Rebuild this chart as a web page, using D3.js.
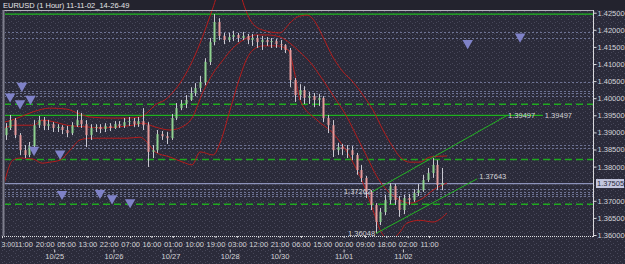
<!DOCTYPE html>
<html><head><meta charset="utf-8">
<script src="https://cdn.jsdelivr.net/npm/d3@7/dist/d3.min.js"></script>
<style>html,body{margin:0;padding:0;background:#2b2b3a;overflow:hidden}</style>
</head><body><svg id="c" width="625" height="264"></svg>
<script>
// ---- data (EURUSD, 2-hour aggregated candles) ----
const opens=[1.3892,1.3913,1.3936,1.3892,1.3848,1.3834,1.3860,1.3921,1.3936,1.3919,1.3924,1.3913,1.3916,1.3907,1.3898,1.3921,1.3936,1.3924,1.3892,1.3913,1.3916,1.3910,1.3919,1.3913,1.3924,1.3919,1.3930,1.3933,1.3924,1.3933,1.3921,1.3843,1.3848,1.3895,1.3889,1.3883,1.3942,1.3971,1.3983,1.3995,1.4015,1.4030,1.4047,1.4106,1.4164,1.4223,1.4182,1.4170,1.4179,1.4185,1.4176,1.4182,1.4170,1.4176,1.4164,1.4170,1.4164,1.4167,1.4158,1.4155,1.4141,1.4053,1.4009,1.4024,1.4001,1.4006,1.3995,1.4001,1.3942,1.3921,1.3848,1.3857,1.3851,1.3848,1.3834,1.3790,1.3767,1.3726,1.3688,1.3638,1.3667,1.3702,1.3743,1.3702,1.3673,1.3708,1.3702,1.3723,1.3731,1.3761,1.3781,1.3805,1.3746];
const highs=[1.3927,1.3951,1.3942,1.3898,1.3863,1.3872,1.3936,1.3948,1.3945,1.3936,1.3930,1.3924,1.3921,1.3919,1.3930,1.3965,1.3957,1.3936,1.3924,1.3924,1.3924,1.3927,1.3927,1.3933,1.3933,1.3942,1.3945,1.3942,1.3945,1.3971,1.3930,1.3863,1.3907,1.3904,1.3901,1.3954,1.3986,1.3995,1.4009,1.4032,1.4044,1.4065,1.4117,1.4176,1.4246,1.4234,1.4191,1.4191,1.4197,1.4191,1.4194,1.4188,1.4188,1.4185,1.4182,1.4179,1.4176,1.4173,1.4170,1.4158,1.4147,1.4059,1.4041,1.4035,1.4018,1.4015,1.4012,1.4006,1.3951,1.3936,1.3869,1.3866,1.3863,1.3860,1.3840,1.3805,1.3773,1.3731,1.3693,1.3679,1.3717,1.3752,1.3749,1.3714,1.3717,1.3720,1.3734,1.3749,1.3776,1.3796,1.3825,1.3819,1.3796];
const lows=[1.3878,1.3907,1.3883,1.3834,1.3825,1.3828,1.3848,1.3913,1.3907,1.3907,1.3901,1.3901,1.3895,1.3886,1.3892,1.3916,1.3913,1.3857,1.3878,1.3901,1.3898,1.3901,1.3904,1.3910,1.3913,1.3913,1.3919,1.3916,1.3916,1.3907,1.3799,1.3825,1.3840,1.3878,1.3866,1.3878,1.3936,1.3965,1.3971,1.3992,1.4006,1.4018,1.4038,1.4097,1.4155,1.4170,1.4158,1.4164,1.4167,1.4164,1.4170,1.4158,1.4153,1.4147,1.4141,1.4153,1.4147,1.4147,1.4141,1.4132,1.4032,1.3989,1.3995,1.3983,1.3983,1.3974,1.3977,1.3930,1.3898,1.3828,1.3834,1.3834,1.3825,1.3819,1.3776,1.3755,1.3708,1.3673,1.3605,1.3629,1.3658,1.3690,1.3688,1.3653,1.3661,1.3688,1.3697,1.3714,1.3726,1.3755,1.3767,1.3731,1.3731];
const closes=[1.3913,1.3936,1.3892,1.3848,1.3834,1.3860,1.3921,1.3936,1.3919,1.3924,1.3913,1.3916,1.3907,1.3898,1.3921,1.3936,1.3924,1.3892,1.3913,1.3916,1.3910,1.3919,1.3913,1.3924,1.3919,1.3930,1.3933,1.3924,1.3933,1.3921,1.3843,1.3848,1.3895,1.3889,1.3883,1.3942,1.3971,1.3983,1.3995,1.4015,1.4030,1.4047,1.4106,1.4164,1.4223,1.4182,1.4170,1.4179,1.4185,1.4176,1.4182,1.4170,1.4176,1.4164,1.4170,1.4164,1.4167,1.4158,1.4155,1.4141,1.4053,1.4009,1.4024,1.4001,1.4006,1.3995,1.4001,1.3942,1.3921,1.3848,1.3857,1.3851,1.3848,1.3834,1.3790,1.3767,1.3726,1.3688,1.3638,1.3667,1.3702,1.3743,1.3702,1.3673,1.3708,1.3702,1.3723,1.3731,1.3761,1.3781,1.3805,1.3746,1.37505];

// Bollinger bands: [bar index, price]
const bandUpper=[[0.8,1.3930],[4.2,1.3936],[7.6,1.3945],[13.1,1.3960],[20.2,1.3971],[27.4,1.3968],[31.6,1.3957],[37.1,1.3945],[45.5,1.3942],[52.7,1.3942],[58.2,1.3945],[61.6,1.3960],[64.5,1.3980],[68.7,1.3995],[72.9,1.4024],[77.2,1.4068],[81.4,1.4126],[85.6,1.4199],[88.9,1.4264],[91.9,1.4316],[99.5,1.4316],[102.4,1.4264],[104.6,1.4229],[110,1.4199],[117.2,1.4191],[121.4,1.4220],[124.4,1.4237],[128.6,1.4243],[132,1.4223],[135.3,1.4179],[139.5,1.4120],[143.8,1.4077],[148,1.4047],[152.2,1.4009],[156.4,1.3965],[160.6,1.3907],[164.8,1.3857],[167.8,1.3828],[172,1.3813],[176.2,1.3813],[180.4,1.3828],[187.6,1.3831]];
const bandMiddle=[[0.8,1.3913],[5.5,1.3921],[13.1,1.3921],[17.3,1.3936],[22.3,1.3930],[27.4,1.3921],[35.8,1.3916],[41.3,1.3913],[48.5,1.3916],[55.2,1.3921],[59.4,1.3927],[64.5,1.3916],[70.8,1.3907],[77.2,1.3921],[80.1,1.3942],[84.7,1.4018],[89,1.4073],[93.2,1.4112],[97.4,1.4147],[103.3,1.4176],[107.5,1.4185],[111.7,1.4185],[117.2,1.4179],[121.4,1.4161],[125.6,1.4135],[129.8,1.4106],[135.3,1.4053],[139.5,1.4009],[145.4,1.3945],[149.7,1.3886],[153.9,1.3828],[158.1,1.3770],[162.3,1.3731],[167.8,1.3702],[172,1.3693],[177.5,1.3708],[181.7,1.3731],[187.6,1.3752]];
const bandLower=[[0.8,1.3746],[2.5,1.3790],[4.6,1.3819],[7.6,1.3825],[13.1,1.3822],[16.9,1.3810],[20.2,1.3813],[24.5,1.3819],[28.7,1.3848],[32.9,1.3878],[37.1,1.3883],[45.5,1.3883],[52.7,1.3883],[58.2,1.3886],[61.1,1.3872],[64.5,1.3843],[70.8,1.3828],[76.3,1.3813],[80.1,1.3805],[83.5,1.3843],[89,1.3834],[91.9,1.3869],[96.1,1.3965],[100.3,1.4062],[103.3,1.4117],[105.8,1.4141],[110,1.4153],[115.9,1.4153],[120.6,1.4141],[123.5,1.4068],[125.6,1.3995],[132.8,1.3936],[139.5,1.3898],[146.7,1.3828],[152.2,1.3752],[156.4,1.3673],[159.4,1.3615],[163.6,1.3585],[167.8,1.3609],[170.7,1.3635],[176.2,1.3643],[181.7,1.3638],[187.6,1.3664]];

const timeLabels=["3:00","11:00","20:00","05:00","13:00","22:00","07:00","16:00","01:00","10:00","19:00","03:00","12:00","21:00","06:00","15:00","00:00","09:00","18:00","02:00","11:00"];
const dateLabels=["10/25","10/26","10/27","10/28","10/30","11/01","11/02"];
const dateBars=[22,47,71,96,117,144,169];
const priceTicks=[1.425,1.42,1.415,1.41,1.405,1.40,1.395,1.39,1.385,1.38,1.37,1.365,1.36];
const currentPrice=1.37505;

const solidLevels=[1.4246];
const dashedLevels=[1.3982,1.3821,1.3690];
const dottedLevels=[1.4194,1.4175,1.4047,1.4021,1.4014,1.4006,1.3862,1.3853,1.3734,1.3727,1.3719,1.3713];

const arrowBars=[3.4,8.4,7.6,12,13.5,24.5,25.3,41.3,46.4,54,196.3,218.4];
const arrowPrices=[1.4005,1.4036,1.3985,1.3998,1.3849,1.3838,1.3720,1.3723,1.3707,1.3696,1.4161,1.4180];

// channel trend lines [bar, price]
const channelUpper=[[156.0,1.37262],[212.9,1.39497]];
const channelLower=[[157.7,1.36048],[200.3,1.37643]];
const hLine={from:0.8,to:228,price:1.39497};

// ---- drawing ----
const svg=d3.select("#c");
const W=625,H=264;
const L=4,R=593,T=10,B=236;
const x=d3.scaleLinear().domain([0,180]).range([2,429]);
const y=d3.scaleLinear().domain([1.36,1.425]).range([235,12.7]);
const font="Liberation Sans, Arial, sans-serif";
const txt="#d4d4d8";

const defs=svg.append("defs");
const pat=defs.append("pattern").attr("id","spk").attr("width",7).attr("height",6).attr("patternUnits","userSpaceOnUse");
pat.append("rect").attr("width",7).attr("height",6).attr("fill","#2b2b3a");
[[1,1],[4,3],[6,5],[2,4]].forEach(p=>pat.append("rect").attr("x",p[0]).attr("y",p[1]).attr("width",1).attr("height",1).attr("fill","#474759"));
defs.append("clipPath").attr("id","plot").append("rect").attr("x",L+1).attr("y",0).attr("width",R-L-1).attr("height",B);

svg.append("rect").attr("width",W).attr("height",H).attr("fill","url(#spk)");
svg.append("rect").attr("width",W).attr("height",T).attr("fill","#23232e");

const g=svg.append("g").attr("clip-path","url(#plot)");

// horizontal levels
g.selectAll(".dot").data(dottedLevels).join("line")
 .attr("x1",L).attr("x2",R).attr("y1",d=>Math.round(y(d))+0.5).attr("y2",d=>Math.round(y(d))+0.5)
 .attr("stroke","#6d7394").attr("stroke-dasharray","2,2").attr("stroke-width",1);
g.selectAll(".dash").data(dashedLevels).join("line")
 .attr("x1",L).attr("x2",R).attr("y1",d=>y(d)).attr("y2",d=>y(d))
 .attr("stroke","#1fa81f").attr("stroke-dasharray","7,4").attr("stroke-width",1.5);
g.selectAll(".sol").data(solidLevels).join("line")
 .attr("x1",L).attr("x2",R).attr("y1",d=>y(d)).attr("y2",d=>y(d))
 .attr("stroke","#1fb81f").attr("stroke-width",1.3);
g.append("line").attr("x1",x(hLine.from)).attr("x2",x(hLine.to)).attr("y1",y(hLine.price)).attr("y2",y(hLine.price))
 .attr("stroke","#1fb01f").attr("stroke-width",1.3);
// current price line
g.append("line").attr("x1",L).attr("x2",R).attr("y1",y(currentPrice)).attr("y2",y(currentPrice))
 .attr("stroke","#8d93bb").attr("stroke-width",1.3);

// bands
const bl=d3.line().x(d=>x(d[0])).y(d=>y(d[1])).curve(d3.curveMonotoneX);
[bandUpper,bandMiddle,bandLower].forEach(b=>g.append("path").attr("d",bl(b)).attr("fill","none").attr("stroke","#b41c1c").attr("stroke-width",1));

// candles
const idx=d3.range(closes.length);
const cx=i=>x(2*i+1.5);
g.selectAll(".wick").data(idx).join("line")
 .attr("x1",i=>Math.round(cx(i))+0.5).attr("x2",i=>Math.round(cx(i))+0.5)
 .attr("y1",i=>y(highs[i])).attr("y2",i=>y(lows[i]))
 .attr("stroke","#c9c9d2").attr("stroke-width",1);
g.selectAll(".body").data(idx).join("rect")
 .attr("x",i=>Math.round(cx(i))-0.5).attr("width",2)
 .attr("y",i=>y(Math.max(opens[i],closes[i])))
 .attr("height",i=>Math.max(1,Math.abs(y(opens[i])-y(closes[i]))))
 .attr("fill",i=>closes[i]>=opens[i]?"#8fd28f":"#e69a9a");

// channel lines
[channelUpper,channelLower].forEach(c=>g.append("line")
 .attr("x1",x(c[0][0])).attr("y1",y(c[0][1])).attr("x2",x(c[1][0])).attr("y2",y(c[1][1]))
 .attr("stroke","#22b422").attr("stroke-width",1));

// arrows
const tri=d3.symbol().type(d3.symbolTriangle).size(48);
g.selectAll(".arr").data(arrowBars).join("path")
 .attr("d",tri).attr("transform",(d,i)=>`translate(${x(d)},${y(arrowPrices[i])}) rotate(180)`)
 .attr("fill","#7f82c8");

// value labels on lines
const lab=(t,px,py,anchor)=>svg.append("text").attr("x",px).attr("y",py).attr("text-anchor",anchor)
 .attr("font-family",font).attr("font-size",7.5).attr("fill",txt).text(t);
lab(d3.format(".5f")(channelUpper[0][1]),x(channelUpper[0][0])-1,y(channelUpper[0][1])+2.5,"end");
lab(d3.format(".5f")(channelLower[0][1]),x(channelLower[0][0])-1,y(channelLower[0][1])+2.5,"end");
lab(d3.format(".5f")(channelUpper[1][1]),x(channelUpper[1][0])+1,y(channelUpper[1][1])+2.5,"start");
lab(d3.format(".5f")(channelLower[1][1]),x(channelLower[1][0])+2,y(channelLower[1][1])+0.5,"start");
lab(d3.format(".5f")(hLine.price),x(hLine.to)+2,y(hLine.price)+2.5,"start");

// frame
svg.append("line").attr("x1",L).attr("x2",R).attr("y1",T+0.5).attr("y2",T+0.5).attr("stroke","#b4b4bc");
svg.append("rect").attr("x",2.5).attr("y",T).attr("width",2).attr("height",B-T).attr("fill","#7e7e8c");
svg.append("line").attr("x1",R+0.5).attr("x2",R+0.5).attr("y1",T).attr("y2",B+1).attr("stroke","#d8d8dc");
svg.append("line").attr("x1",L).attr("x2",R).attr("y1",B+0.5).attr("y2",B+0.5).attr("stroke","#dcdce0").attr("stroke-dasharray","1,1");

// price axis
const ya=svg.append("g").attr("transform",`translate(${R+0.5},0)`)
 .call(d3.axisRight(y).tickValues(priceTicks).tickFormat(d3.format(".5f")).tickSize(3).tickPadding(1));
ya.select(".domain").remove();
ya.selectAll("line").attr("stroke","#d8d8dc");
ya.selectAll("text").attr("fill",txt).attr("font-family",font).attr("font-size",7.5);
// current price box
svg.append("rect").attr("x",R+3).attr("y",y(currentPrice)-4.5).attr("width",28).attr("height",9).attr("fill","#c3c6de");
svg.append("text").attr("x",R+4).attr("y",y(currentPrice)+2.7).attr("font-family",font).attr("font-size",7.5).attr("fill","#2a2a3a").text(d3.format(".5f")(currentPrice));

// time axis
const xa=svg.append("g").attr("transform",`translate(0,${B})`)
 .call(d3.axisBottom(x).tickValues(d3.range(0,181,9)).tickFormat((d,i)=>timeLabels[i]).tickSize(2).tickPadding(4));
xa.select(".domain").remove();
xa.selectAll("line").attr("stroke","#d8d8dc");
xa.selectAll("text").attr("fill",txt).attr("font-family",font).attr("font-size",7.5);
// first label is cut by the window edge in the original; keep its visible part inside
xa.selectAll("text").filter((d,i)=>i===0).attr("text-anchor","start").attr("x",-1).attr("font-size",7);
const da=svg.append("g").attr("transform",`translate(0,${B+13.5})`)
 .call(d3.axisBottom(x).tickValues(dateBars).tickFormat((d,i)=>dateLabels[i]).tickSize(3).tickPadding(1));
da.select(".domain").remove();
da.selectAll("line").attr("stroke","#d8d8dc");
da.selectAll("text").attr("fill",txt).attr("font-family",font).attr("font-size",7.5);

// title
svg.append("text").attr("x",3).attr("y",8).attr("font-family",font).attr("font-size",7.5).attr("fill","#e4e4e8").text("EURUSD (1 Hour) 11-11-02_14-26-49");
</script></body></html>
